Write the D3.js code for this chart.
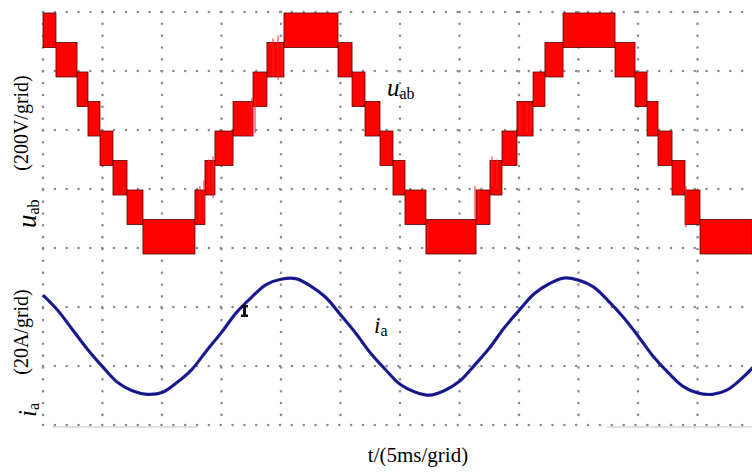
<!DOCTYPE html>
<html><head><meta charset="utf-8">
<script src="https://cdn.jsdelivr.net/npm/d3@7"></script>
<style>body{margin:0;background:#fff}svg{display:block}</style>
</head><body>
<svg id="c" width="752" height="475"></svg>
<script>
// ---- data ----
const timeTicks = [0, 5, 10, 15, 20, 25, 30, 35, 40, 45, 50, 55];          // ms (5 ms/grid)
const voltTicks = [400, 200, 0, -200, -400];                              // V (200 V/grid)
const currTicks = [30, 10, -10, -30];                                     // A (20 A/grid)

// u_ab staircase: segment edges (ms) and lower level of each band (V); band spans low..low+100
const uEdges = [0, 1.09, 2.86, 3.78, 4.79, 5.88, 7.06, 8.40, 12.77, 13.61, 14.45, 15.97, 17.65,
  18.82, 20.25, 24.79, 25.97, 27.06, 28.32, 29.41, 30.42, 32.18, 36.39, 37.56, 38.57, 39.83,
  41.18, 42.18, 43.70, 48.07, 49.75, 50.76, 51.68, 52.86, 53.95, 55.21, 59.6];
const uLow = [300, 200, 100, 0, -100, -200, -300, -400, -300, -200, -100, 0, 100, 200, 300,
  200, 100, 0, -100, -200, -300, -400, -300, -200, -100, 0, 100, 200, 300,
  200, 100, 0, -100, -200, -300, -400];
// thin PWM pulses: time (ms), from V, to V
const spikeT = [13.19, 13.53, 13.95, 14.29, 17.56, 17.82, 19.33, 19.75, 20.08, 32.35, 36.30, 36.64, 37.73, 38.15, 40.08, 40.67, 41.01, 54.03];
const spikeA = [-190, -170, -100, -90, 110, 100, 310, 320, 300, -320, -190, -200, -90, -100, 90, 90, 80, -190];
const spikeB = [-310, -300, -200, -230, -20, -10, 180, 170, 180, -400, -300, -290, -190, -200, -10, -10, 0, -330];

// i_a samples
const iTime = [0, 1.25, 2.5, 3.75, 5, 6.25, 7.5, 8.75, 10, 11.25, 12.5, 13.75, 15, 16.25, 17.5, 18.75,
  20, 21.25, 22.5, 23.75, 25, 26.25, 27.5, 28.75, 30, 31.25, 32.5, 33.75, 35, 36.25, 37.5, 38.75,
  40, 41.25, 42.5, 43.75, 45, 46.25, 47.5, 48.75, 50, 51.25, 52.5, 53.75, 55, 56.25, 57.5, 58.75, 60];
const iVal = [14.0, 8.8, 2.2, -4.4, -10.2, -15.5, -18.4, -19.6, -19.0, -15.6, -11.2, -4.8, 1.4, 8.1, 13.2, 17.6,
  19.4, 19.6, 17.1, 13.3, 7.4, 1.3, -5.5, -11.1, -16.2, -18.8, -19.9, -18.3, -15.2, -9.8, -4.0, 2.9,
  8.8, 14.4, 17.8, 19.8, 19.1, 16.8, 12.1, 6.6, 0.2, -6.6, -12.1, -16.8, -19.1, -19.6, -18.1, -14.1, -9.0];

// ---- drawing ----
const svg = d3.select("#c");
const x = d3.scaleLinear().domain([0, 60]).range([43, 757]);
const yU = d3.scaleLinear().domain([-400, 400]).range([248, 12]);
const yI = d3.scaleLinear().domain([-30, 30]).range([425, 248]);
const serif = "'Liberation Serif','Times New Roman',serif";

const grid = svg.append("g");
const dotStyle = s => s.attr("stroke", "#8c8c8c").attr("stroke-width", 2.6)
  .attr("stroke-linecap", "round").attr("stroke-dasharray", "0 11.85");
grid.selectAll("line.v").data(timeTicks).join("line")
  .attr("x1", d => x(d)).attr("x2", d => x(d)).attr("y1", yU(400)).attr("y2", yI(-30)).call(dotStyle);
const hY = voltTicks.map(v => yU(v)).concat(currTicks.slice(1).map(v => yI(v)));
grid.selectAll("line.h").data(hY).join("line")
  .attr("x1", x(0)).attr("x2", 760).attr("y1", d => d).attr("y2", d => d).call(dotStyle);
grid.selectAll("line.b").data([[0.8, 13.0], [47.4, 60]]).join("line")
  .attr("x1", d => x(d[0])).attr("x2", d => x(d[1])).attr("y1", yI(-30) + 2).attr("y2", yI(-30) + 2)
  .attr("stroke", "#c4c4c4").attr("stroke-width", 1);

// u_ab bands
const bands = uLow.map((lo, k) => ({t0: uEdges[k], t1: uEdges[k + 1], lo}));
svg.append("g").selectAll("rect").data(bands).join("rect")
  .attr("x", d => x(d.t0)).attr("width", d => x(d.t1) - x(d.t0))
  .attr("y", d => yU(d.lo + 100) + 1).attr("height", d => yU(d.lo) - yU(d.lo + 100) + 5)
  .attr("fill", "#ff0000").attr("stroke", "#5a0000").attr("stroke-width", 0.8);
svg.append("g").selectAll("line").data(spikeT).join("line")
  .attr("x1", d => x(d)).attr("x2", d => x(d))
  .attr("y1", (d, k) => yU(spikeA[k])).attr("y2", (d, k) => yU(spikeB[k]))
  .attr("stroke", "#ff2020").attr("stroke-width", 1);

// i_a line
const pts = iTime.map((t, k) => [t, iVal[k]]);
const ln = d3.line().x(d => x(d[0])).y(d => yI(d[1])).curve(d3.curveCatmullRom);
svg.append("path").datum(pts).attr("d", ln)
  .attr("fill", "none").attr("stroke", "#2222a8").attr("stroke-width", 3.2);
svg.append("path").datum(pts).attr("d", ln)
  .attr("fill", "none").attr("stroke", "#0c0c5c").attr("stroke-width", 1);
// small marker on the current trace
svg.append("path").attr("d", "M241,305 h7 v2.5 h-2 v7 h2 v2.5 h-7 v-2.5 h2 v-7 h-2 z")
  .attr("fill", "#111");

// in-plot labels
const tu = svg.append("text").attr("x", 387).attr("y", 96).attr("font-family", serif).attr("fill", "#000");
tu.append("tspan").attr("font-size", 25).attr("font-style", "italic").text("u");
tu.append("tspan").attr("font-size", 16).attr("dy", 3).text("ab");
const ti = svg.append("text").attr("x", 374).attr("y", 333).attr("font-family", serif).attr("fill", "#000");
ti.append("tspan").attr("font-size", 23).attr("font-style", "italic").text("i");
ti.append("tspan").attr("font-size", 16).attr("dy", 3).text("a");

// axis titles
svg.append("text").attr("x", 418).attr("y", 462).attr("text-anchor", "middle")
  .attr("font-family", serif).attr("font-size", 21).text("t/(5ms/grid)");
const lu = svg.append("text").attr("transform", "translate(36,228) rotate(-90)").attr("font-family", serif);
lu.append("tspan").attr("font-size", 27).attr("font-style", "italic").text("u");
lu.append("tspan").attr("font-size", 16).attr("dy", 3).text("ab");
svg.append("text").attr("transform", "translate(28,123) rotate(-90)").attr("text-anchor", "middle")
  .attr("font-family", serif).attr("font-size", 20).text("(200V/grid)");
const li = svg.append("text").attr("transform", "translate(36,417) rotate(-90)").attr("font-family", serif);
li.append("tspan").attr("font-size", 25).attr("font-style", "italic").text("i");
li.append("tspan").attr("font-size", 16).attr("dy", 3).text("a");
svg.append("text").attr("transform", "translate(28,332) rotate(-90)").attr("text-anchor", "middle")
  .attr("font-family", serif).attr("font-size", 20).text("(20A/grid)");
</script>
</body></html>
